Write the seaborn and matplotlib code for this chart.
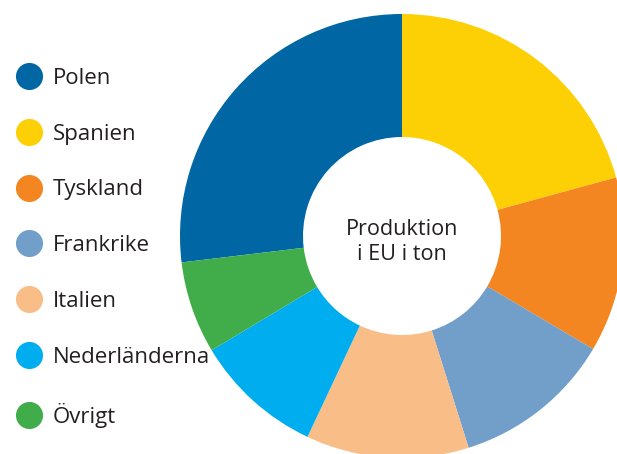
import matplotlib
matplotlib.use("Agg")
import matplotlib.pyplot as plt
from matplotlib.lines import Line2D
import seaborn as sns

countries = ["Polen", "Spanien", "Tyskland", "Frankrike", "Italien", "Nederländerna", "Övrigt"]
shares = [26.9, 20.75, 12.75, 11.65, 11.85, 9.4, 6.7]
colors = ["#0066a4", "#fdd005", "#f48622", "#719fca", "#f9bd88", "#00aeef", "#41ad4a"]
center_label = "Produktion\ni EU i ton"

sns.set_theme(style="white")
plt.rcParams["font.family"] = ["Open Sans", "DejaVu Sans"]

W, H = 617, 454
fig = plt.figure(figsize=(W / 100, H / 100), dpi=100)

# donut: centre at (402, 236) px, outer radius 222 px, partly outside the figure
cx, cy, R = 402, 236, 222
ax = fig.add_axes([(cx - R) / W, (H - cy - R) / H, 2 * R / W, 2 * R / H])

total = sum(shares)
start = 90 + 360 * shares[0] / total
ax.pie(shares, colors=colors, startangle=start, counterclock=False,
       wedgeprops=dict(width=1 - 99 / 222, linewidth=0))
ax.set_xlim(-1, 1)
ax.set_ylim(-1, 1)
ax.set_aspect("equal")
ax.axis("off")

ax.text(0, -0.028, center_label, ha="center", va="center", fontsize=15.6,
        color="#231f20", linespacing=1.25)

handles = [Line2D([], [], marker="o", linestyle="", markersize=19.5,
                  markerfacecolor=c, markeredgewidth=0) for c in colors]
fig.legend(handles, countries, loc="upper left",
           bbox_to_anchor=(8 / W, 1 - 59 / H), frameon=False,
           fontsize=16, labelspacing=1.565, handlelength=1.1,
           handletextpad=0.5, borderaxespad=0, labelcolor="#231f20")

fig.savefig("out.png", dpi=100)
